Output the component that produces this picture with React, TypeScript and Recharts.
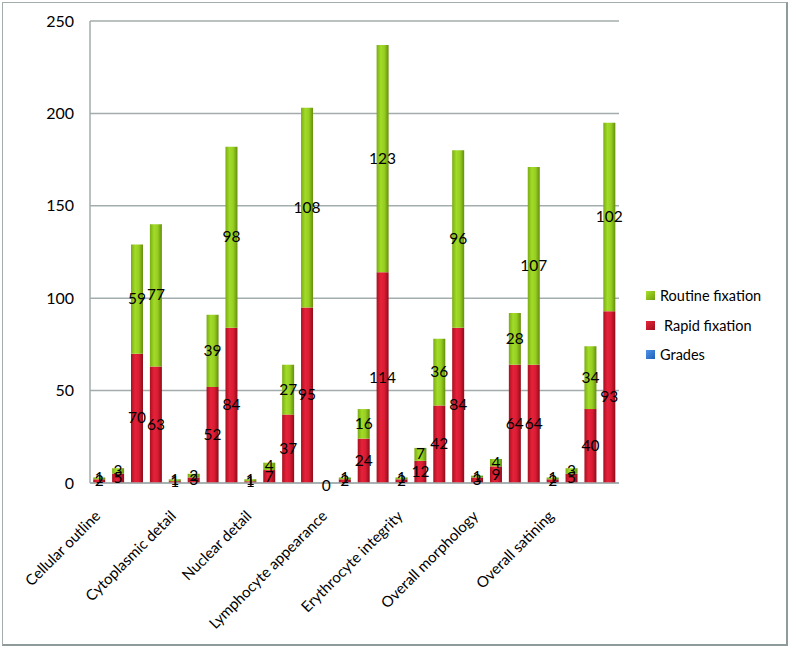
import React from 'react';
import { BarChart, Bar, XAxis, YAxis, CartesianGrid, LabelList, ReferenceDot } from 'recharts';

/* ─── DATA ─────────────────────────────────────── */
const categories = [
  'Cellular outline', 'Cytoplasmic detail', 'Nuclear detail', 'Lymphocyte appearance',
  'Erythrocyte integrity', 'Overall morphology', 'Overall satining',
];
const grades = [0, 1, 2, 3];
// 4 grade slots per category, left to right
const rapidFixation = [2, 5, 70, 63, 1, 3, 52, 84, 1, 7, 37, 95, 0, 2, 24, 114, 2, 12, 42, 84, 3, 9, 64, 64, 2, 5, 40, 93];
const routineFixation = [1, 3, 59, 77, 1, 2, 39, 98, 1, 4, 27, 108, 0, 1, 16, 123, 1, 7, 36, 96, 1, 4, 28, 107, 1, 3, 34, 102];
const yTicks = [0, 50, 100, 150, 200, 250];

const data = categories.flatMap((cat, ci) =>
  grades.map((g, gi) => ({
    name: gi === 0 ? cat : `${cat}-${g}`,
    label: gi === 0 ? cat : '',
    grades: null,
    rapid: rapidFixation[ci * 4 + gi],
    routine: routineFixation[ci * 4 + gi],
  }))
);
// zero-height stacks get no rectangle, so their "0" label is drawn as a dot label
const zeroRows = data.filter((d) => d.rapid === 0 && d.routine === 0);

const FONT = 'Lato, "Open Sans", sans-serif';
const GRID = '#a3adad';

/* ─── X TICK ─────────────────────────────────────── */
const CatTick = ({ x, y, index }: any) => {
  const lbl = data[index]?.label;
  if (!lbl) return null;
  return (
    <text x={x + 2} y={y + 26} transform={`rotate(-45, ${x + 2}, ${y + 26})`} textAnchor="end"
      fontSize={15} fontFamily={FONT} fill="#000">
      {lbl}
    </text>
  );
};

/* ─── DATA LABEL ─────────────────────────────────────── */
const ValLabel = (props: any) => {
  const { x, y, width, height, value } = props;
  if (value == null) return null;
  return (
    <text x={x + width / 2} y={y + height / 2} dy={5} textAnchor="middle"
      fontSize={15.5} fontFamily={FONT} fill="#000">
      {value}
    </text>
  );
};

/* ─── LEGEND ─────────────────────────────────────── */
const items = [
  { name: 'Routine fixation', c1: '#6f9c10', c2: '#a8e32a' },
  { name: 'Rapid fixation', c1: '#9e0f1e', c2: '#e8243a' },
  { name: 'Grades', c1: '#1f5fb8', c2: '#4f94e8' },
];
const LegendBox = () => (
  <div style={{ position: 'absolute', left: 646, top: 281, fontFamily: FONT, fontSize: 14.5, color: '#000' }}>
    {items.map((it) => (
      <div key={it.name} style={{ display: 'flex', alignItems: 'center', height: 29.5 }}>
        <div style={{ width: 9, height: 9, background: `linear-gradient(135deg, ${it.c2}, ${it.c1})`, marginRight: 5 }} />
        <span style={{ marginLeft: it.name === 'Rapid fixation' ? 4 : 0 }}>{it.name}</span>
      </div>
    ))}
  </div>
);

export default function App() {
  return (
    <div style={{ position: 'absolute', left: 0, top: 0, width: 796, height: 654, background: '#fff' }}>
      <div style={{
        position: 'absolute', left: 2, top: 2, width: 783, height: 641,
        borderTop: `1px solid ${GRID}`, borderLeft: `1px solid ${GRID}`,
        borderRight: `2px solid #8f9a9a`, borderBottom: `2px solid #8f9a9a`,
      }} />
      <BarChart width={796} height={654} data={data} barCategoryGap="17%"
        margin={{ top: 21, right: 177, left: 30, bottom: 71 }}>
        <defs>
          <linearGradient id="gRed" x1="0" y1="0" x2="1" y2="0">
            <stop offset="0%" stopColor="#a8111f" />
            <stop offset="35%" stopColor="#e6223b" />
            <stop offset="65%" stopColor="#da1c33" />
            <stop offset="100%" stopColor="#8e0c1a" />
          </linearGradient>
          <linearGradient id="gGreen" x1="0" y1="0" x2="1" y2="0">
            <stop offset="0%" stopColor="#7aac14" />
            <stop offset="35%" stopColor="#a2dc28" />
            <stop offset="65%" stopColor="#96ce22" />
            <stop offset="100%" stopColor="#658e0c" />
          </linearGradient>
          <linearGradient id="gBlue" x1="0" y1="0" x2="1" y2="0">
            <stop offset="0%" stopColor="#1f5fb8" />
            <stop offset="50%" stopColor="#4f94e8" />
            <stop offset="100%" stopColor="#1f5fb8" />
          </linearGradient>
        </defs>
        <CartesianGrid vertical={false} stroke={GRID} strokeWidth={1.5} />
        <XAxis dataKey="name" interval={0} height={100} axisLine={{ stroke: GRID, strokeWidth: 1.5 }}
          tickLine={false} tick={<CatTick />} />
        <YAxis domain={[0, 250]} ticks={yTicks} width={60} axisLine={{ stroke: GRID, strokeWidth: 1.5 }}
          tickLine={false} tickSize={0} tickMargin={16}
          tick={{ fontSize: 16, fill: '#000', fontFamily: FONT }} />
        <Bar dataKey="grades" name="Grades" stackId="a" fill="url(#gBlue)" isAnimationActive={false} />
        <Bar dataKey="rapid" name="Rapid fixation" stackId="a" fill="url(#gRed)" isAnimationActive={false}>
          <LabelList dataKey="rapid" content={<ValLabel />} />
        </Bar>
        <Bar dataKey="routine" name="Routine fixation" stackId="a" fill="url(#gGreen)" isAnimationActive={false}>
          <LabelList dataKey="routine" content={<ValLabel />} />
        </Bar>
        {zeroRows.map((d) => (
          <ReferenceDot key={d.name} x={d.name} y={0} r={0} stroke="none" fill="none"
            label={{ value: d.rapid, position: 'center', dy: 2, fontSize: 15.5, fontFamily: FONT, fill: '#000' }} />
        ))}
      </BarChart>
      <LegendBox />
    </div>
  );
}
